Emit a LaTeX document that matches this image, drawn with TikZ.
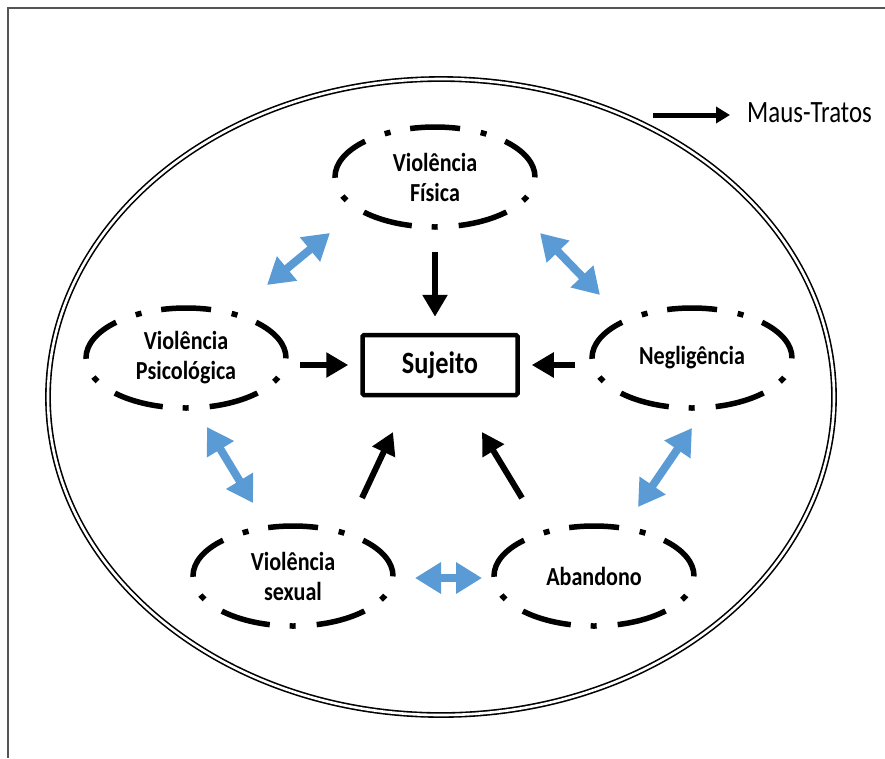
\documentclass[tikz,border=0pt]{standalone}
\usepackage{fontspec}
\setmainfont{Carlito}
\newfontfamily\lblfont[FakeStretch=0.85]{Carlito}
\newfontfamily\legfont[FakeStretch=0.8]{Carlito}
\usetikzlibrary{arrows.meta,shapes.geometric}
\definecolor{arrblue}{HTML}{5B9BD5}
\definecolor{framegray}{HTML}{555555}
\begin{document}
\begin{tikzpicture}[x=1pt,y=-1pt,
  viol/.style={ellipse, draw, line width=5.5pt, line cap=butt,
    dash pattern=on 50pt off 20pt on 6pt off 21pt, dash phase=1pt,
    minimum width=200pt, minimum height=100pt, inner sep=0pt, align=center,
    font=\lblfont\bfseries\fontsize{26}{30}\selectfont},
  blk/.style={line width=6pt, -{Triangle[length=22pt,width=24pt]}},
  blu/.style={arrblue, line width=8pt,
    {Triangle[length=26pt,width=30pt]}-{Triangle[length=26pt,width=30pt]}},
]
\useasboundingbox (0,0) rectangle (885,758);
% frame
\draw[framegray, line width=1.3pt] (885,8) -- (8,8) -- (8,758);
% outer double ellipse
\node[ellipse, draw, line width=1.6pt, double=white, double distance=2.6pt,
  minimum width=786pt, minimum height=636pt, inner sep=0pt] (outer) at (441,397) {};
% nodes
\node[viol] (fis) at (435,177) {Violência\\Física};
\node[viol] (psi) at (186,358) {Violência\\Psicológica};
\node[viol] (neg) at (692,358) {Negligência};
\node[viol] (sex) at (293,576) {Violência\\sexual};
\node[viol] (aba) at (594,576) {Abandono};
\node[draw, line width=4.5pt, minimum width=155pt, minimum height=60pt, inner sep=0pt,
  rounded corners=1.5pt, font=\lblfont\bfseries\fontsize{31}{36}\selectfont] (suj) at (440,365) {Sujeito};
% legend
\node[anchor=west, inner sep=0pt, font=\legfont\fontsize{31}{36}\selectfont] (leg) at (747,113) {Maus-Tratos};
\coordinate (legs) at (653,115);
\draw[line width=5pt, -{Triangle[length=14pt,width=16pt]}, shorten >=17pt] (legs) -- (legs -| leg.west);
% black arrows
\draw[blk, shorten <=22pt, shorten >=16pt] (fis.south) -- (fis.south |- suj.north);
\draw[blk, shorten <=11pt, shorten >=12pt] (psi.east |- suj.west) -- (suj.west);
\draw[blk, shorten <=14pt, shorten >=12pt] (neg.west |- suj.east) -- (suj.east);
\coordinate (s1) at (362,498); \coordinate (s2) at (393,432);
\coordinate (a1) at (522,498); \coordinate (a2) at (482,432);
\draw[blk] (s1) -- (s2);
\draw[blk] (a1) -- (a2);
% blue double arrows
\coordinate (b1) at (267,285); \coordinate (b2) at (330,233);
\coordinate (b3) at (540,233); \coordinate (b4) at (600,295);
\coordinate (b5) at (207,427); \coordinate (b6) at (253,503);
\coordinate (b7) at (692,428); \coordinate (b8) at (638,507);
\coordinate (b9) at (415,578); \coordinate (b10) at (482,578);
\draw[blu] (b1) -- (b2);
\draw[blu] (b3) -- (b4);
\draw[blu] (b5) -- (b6);
\draw[blu] (b7) -- (b8);
\draw[blu] (b9) -- (b10);
\end{tikzpicture}
\end{document}
